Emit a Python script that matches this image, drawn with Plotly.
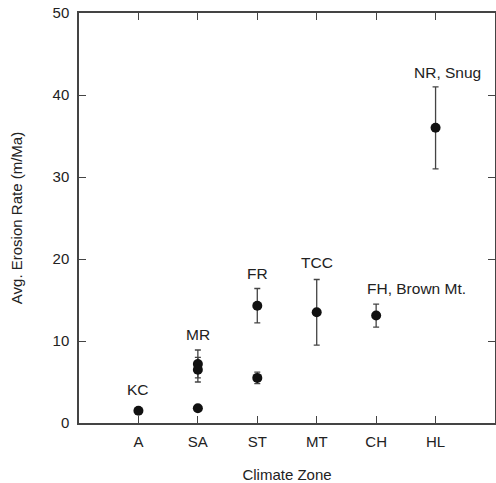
import plotly.graph_objects as go

# Data
zones = ["A", "SA", "ST", "MT", "CH", "HL"]
point_zone = ["A", "SA", "SA", "SA", "ST", "ST", "MT", "CH", "HL"]
point_rate = [1.5, 1.8, 7.2, 6.5, 14.3, 5.5, 13.5, 13.1, 36.0]
point_err = [0, 0, 1.7, 1.5, 2.1, 0.7, 4.0, 1.4, 5.0]

label_text = ["KC", "MR", "FR", "TCC", "FH, Brown Mt.", "NR, Snug"]
label_zone = ["A", "SA", "ST", "MT", "CH", "HL"]
label_y = [4.1, 10.8, 18.2, 19.6, 16.4, 42.7]

# pixel offsets for label placement (layout only)
label_xshift = [0, 0, 0, 0, 40, 12]

FONT = "Liberation Sans, Arial, Helvetica, sans-serif"
AX = "#444444"

fig = go.Figure()
fig.add_trace(go.Scatter(
    x=point_zone, y=point_rate,
    mode="markers",
    marker=dict(color="#111111", size=10),
    error_y=dict(type="data", array=point_err, visible=True,
                 color=AX, thickness=1.3, width=3),
    showlegend=False,
))

for t, z, yv, dx in zip(label_text, label_zone, label_y, label_xshift):
    fig.add_annotation(x=z, y=yv, xref="x", yref="y", text=t,
                       showarrow=False, xshift=dx,
                       font=dict(family=FONT, size=15.5, color="#222222"))

fig.update_layout(
    width=496, height=483,
    margin=dict(l=79, r=1, t=13, b=60, autoexpand=False),
    paper_bgcolor="white", plot_bgcolor="white",
    font=dict(family=FONT, size=15, color="#222222"),
)
fig.update_xaxes(
    type="category", categoryorder="array", categoryarray=zones,
    range=[-1, 6],
    showline=True, linecolor=AX, linewidth=1.5, mirror="ticks",
    ticks="inside", ticklen=7, tickwidth=1.3, tickcolor=AX,
    showgrid=False, zeroline=False,
    tickfont=dict(size=15), ticklabelstandoff=4,
    title=dict(text="Climate Zone", font=dict(size=15), standoff=21),
)
fig.update_yaxes(
    range=[0, 50], tickvals=[0, 10, 20, 30, 40, 50],
    showline=True, linecolor=AX, linewidth=1.5, mirror="ticks",
    ticks="inside", ticklen=7, tickwidth=1.3, tickcolor=AX,
    showgrid=False, zeroline=False,
    tickfont=dict(size=15), ticklabelstandoff=5,
    title=dict(text="Avg. Erosion Rate (m/Ma)", font=dict(size=15), standoff=26),
)

fig.write_html("out.html", config={"displayModeBar": False},
               post_script="document.body.style.margin='0';document.body.style.padding='0';")
